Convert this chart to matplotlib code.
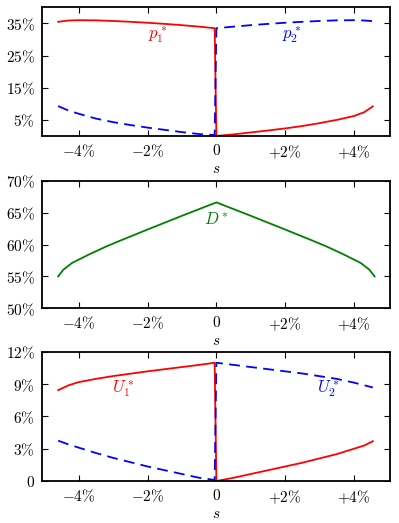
import numpy as np
import matplotlib
matplotlib.use("Agg")
import matplotlib.pyplot as plt
from matplotlib.ticker import FixedLocator, FixedFormatter

plt.rcParams['mathtext.fontset'] = 'cm'
plt.rcParams['font.family'] = 'serif'
plt.rcParams['font.serif'] = ['DejaVu Serif']

# %% data (s in %, values in %)
s_left = [-4.6, -4.3, -4.0, -3.5, -3.0, -2.5, -2.0, -1.5, -1.0, -0.5, -0.05]
s_right = [0.0, 0.5, 1.0, 1.5, 2.0, 2.5, 3.0, 3.5, 4.0, 4.3, 4.55]

p1_left = [35.5, 35.9, 36.0, 35.95, 35.75, 35.5, 35.2, 34.85, 34.45, 34.0, 33.5]
p1_right = [0.0, 0.5, 1.1, 1.7, 2.35, 3.1, 4.0, 5.0, 6.2, 7.4, 9.2]
p2_left = [9.3, 7.9, 6.9, 5.4, 4.3, 3.4, 2.6, 1.9, 1.2, 0.6, 0.3]
p2_right = [33.5, 34.0, 34.45, 34.85, 35.2, 35.5, 35.75, 35.95, 36.0, 35.9, 35.7]

s_full = [-4.6, -4.45, -4.2, -3.7, -3.2, -2.8, -2.0, -1.0, 0.0,
          1.0, 2.0, 2.8, 3.2, 3.7, 4.2, 4.45, 4.6]
D = [55.0, 56.05, 57.1, 58.45, 59.7, 60.6, 62.35, 64.5, 66.6,
     64.5, 62.35, 60.6, 59.7, 58.45, 57.1, 56.05, 55.0]

U1_left = [8.45, 8.9, 9.2, 9.5, 9.76, 9.98, 10.2, 10.4, 10.6, 10.8, 11.0]
U1_right = [0.0, 0.3, 0.65, 1.0, 1.35, 1.7, 2.1, 2.5, 3.0, 3.3, 3.7]
U2_left = [3.75, 3.4, 3.1, 2.6, 2.15, 1.75, 1.35, 1.0, 0.65, 0.3, 0.1]
U2_right = [11.0, 10.8, 10.6, 10.4, 10.2, 10.0, 9.75, 9.5, 9.15, 8.9, 8.7]

x_ticks = [-4, -2, 0, 2, 4]
x_labels = [r'$-4\%$', r'$-2\%$', r'$0$', r'$+2\%$', r'$+4\%$']

fs = 11
fig = plt.figure(figsize=(3.99, 5.23), dpi=100)
left, width = 0.1045, 0.873
ax1 = fig.add_axes([left, 0.740, width, 0.246])
ax2 = fig.add_axes([left, 0.4105, width, 0.244])
ax3 = fig.add_axes([left, 0.0803, width, 0.2467])

def style(ax, yticks, ylabels, ylim):
    ax.set_xlim(-5.08, 5.05)
    ax.set_ylim(*ylim)
    ax.xaxis.set_major_locator(FixedLocator(x_ticks))
    ax.xaxis.set_major_formatter(FixedFormatter(x_labels))
    ax.yaxis.set_major_locator(FixedLocator(yticks))
    ax.yaxis.set_major_formatter(FixedFormatter(ylabels))
    ax.tick_params(direction='in', top=True, right=True, length=4, width=0.8,
                   labelsize=fs, pad=5)
    for sp in ax.spines.values():
        sp.set_linewidth(1.3)
    ax.set_xlabel(r'$s$', fontsize=fs, labelpad=1)

red = '#ff0000'
blue = '#0000ff'
green = '#008000'
lw = 1.3

# p1 / p2
ax1.plot(s_left + s_right, p1_left + p1_right, color=red, lw=lw)
ax1.plot(s_left + s_right, p2_left + p2_right, color=blue, lw=lw, dashes=(6, 3.5))
ax1.text(-1.7, 31.2, r'$p_1^*$', color=red, fontsize=fs + 1, ha='center', va='center')
ax1.text(2.2, 31.2, r'$p_2^*$', color=blue, fontsize=fs + 1, ha='center', va='center')
style(ax1, [5, 15, 25, 35], [r'$5\%$', r'$15\%$', r'$25\%$', r'$35\%$'], (0, 40))

# D
ax2.plot(s_full, D, color=green, lw=lw)
ax2.text(0, 63.8, r'$D^*$', color=green, fontsize=fs + 1, ha='center', va='center')
style(ax2, [50, 55, 60, 65, 70],
      [r'$50\%$', r'$55\%$', r'$60\%$', r'$65\%$', r'$70\%$'], (50, 70))

# U1 / U2
ax3.plot(s_left + s_right, U1_left + U1_right, color=red, lw=lw)
ax3.plot(s_left + s_right, U2_left + U2_right, color=blue, lw=lw, dashes=(6, 3.5))
ax3.text(-2.7, 8.5, r'$U_1^*$', color=red, fontsize=fs + 1, ha='center', va='center')
ax3.text(3.25, 8.5, r'$U_2^*$', color=blue, fontsize=fs + 1, ha='center', va='center')
style(ax3, [0, 3, 6, 9, 12], [r'$0$', r'$3\%$', r'$6\%$', r'$9\%$', r'$12\%$'], (0, 12))

fig.savefig('out.png', dpi=100)
